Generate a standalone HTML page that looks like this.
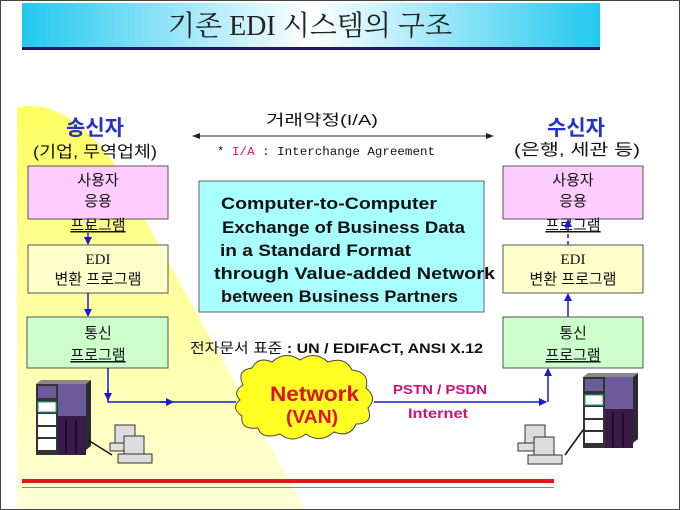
<!DOCTYPE html>
<html><head><meta charset="utf-8"><style>
html,body{margin:0;padding:0;background:#fff}
svg{display:block}
.k{font-family:"Liberation Sans","Noto Sans CJK KR",sans-serif}
.s{font-family:"Liberation Serif","Noto Serif CJK SC","Noto Sans CJK KR",serif}
.m{font-family:"Liberation Mono","Noto Sans CJK KR",monospace}
</style></head><body>
<svg width="680" height="510" viewBox="0 0 680 510" xmlns="http://www.w3.org/2000/svg">
<defs>
<linearGradient id="tg" x1="0" x2="1" y1="0" y2="0">
<stop offset="0" stop-color="#22c8f0"/><stop offset="0.5" stop-color="#ffffff"/><stop offset="1" stop-color="#22c8f0"/>
</linearGradient>
<linearGradient id="yg" x1="0" x2="0" y1="0" y2="1">
<stop offset="0" stop-color="#ffff60"/><stop offset="0.35" stop-color="#ffff90"/><stop offset="1" stop-color="#ffffd8"/>
</linearGradient>
<marker id="ar" markerWidth="8" markerHeight="8" refX="7" refY="4" orient="auto" markerUnits="userSpaceOnUse"><path d="M0,0 L8,4 L0,8 Z" fill="#1a1acc"/></marker>
<marker id="ak" markerWidth="8" markerHeight="8" refX="7" refY="4" orient="auto-start-reverse" markerUnits="userSpaceOnUse"><path d="M0,1 L8,4 L0,7 Z" fill="#222"/></marker>
</defs>
<rect x="0.5" y="0.5" width="679" height="509" fill="#fff" stroke="#444"/>
<path d="M17,108 Q60,95 112,160 L305,509 L17,509 Z" fill="url(#yg)"/>
<rect x="22" y="3" width="578" height="45" fill="url(#tg)"/>
<rect x="22" y="47" width="578" height="3" fill="#1a1a60"/>
<text x="310" y="35" text-anchor="middle" class="s" font-size="28" fill="#222">기존 EDI 시스템의 구조</text>

<text x="95" y="135" text-anchor="middle" class="k" font-size="21" font-weight="bold" fill="#2233cc">송신자</text>
<text x="33" y="157" class="k" font-size="16" fill="#111" textLength="124" lengthAdjust="spacingAndGlyphs">(기업, 무역업체)</text>
<text x="576" y="135" text-anchor="middle" class="k" font-size="21" font-weight="bold" fill="#2233cc">수신자</text>
<text x="514" y="155" class="k" font-size="16" fill="#111" textLength="126" lengthAdjust="spacingAndGlyphs">(은행, 세관 등)</text>

<text x="266" y="125" class="k" font-size="15" fill="#111" textLength="112" lengthAdjust="spacingAndGlyphs">거래약정(I/A)</text>
<line x1="193" y1="136" x2="493" y2="136" stroke="#222" stroke-width="1" marker-start="url(#ak)" marker-end="url(#ak)"/>
<text x="217" y="155" class="m" font-size="12" fill="#111" textLength="218" lengthAdjust="spacingAndGlyphs">* <tspan fill="#dd1177">I/A</tspan> : Interchange Agreement</text>

<!-- left boxes -->
<rect x="28" y="166" width="140" height="53" fill="#ffccff" stroke="#555"/>
<text x="98" y="185" text-anchor="middle" class="k" font-size="15" fill="#111">사용자</text>
<text x="98" y="206" text-anchor="middle" class="k" font-size="15" fill="#111">응용</text>
<text x="98" y="230" text-anchor="middle" class="k" font-size="15" fill="#111" text-decoration="underline">프로그램</text>
<line x1="88" y1="219" x2="88" y2="244" stroke="#1a1acc" stroke-width="1.5" stroke-dasharray="4,3" marker-end="url(#ar)"/>
<rect x="28" y="245" width="140" height="48" fill="#ffffcc" stroke="#555"/>
<text x="98" y="264" text-anchor="middle" class="s" font-size="15" fill="#111">EDI</text>
<text x="98" y="284" text-anchor="middle" class="k" font-size="15" fill="#111">변환 프로그램</text>
<line x1="88" y1="293" x2="88" y2="316" stroke="#1a1acc" stroke-width="1.5" marker-end="url(#ar)"/>
<rect x="27" y="317" width="141" height="51" fill="#ccffcc" stroke="#555"/>
<text x="98" y="338" text-anchor="middle" class="k" font-size="15" fill="#111">통신</text>
<text x="98" y="360" text-anchor="middle" class="k" font-size="15" fill="#111" text-decoration="underline">프로그램</text>

<!-- right boxes -->
<rect x="503" y="166" width="140" height="53" fill="#ffccff" stroke="#555"/>
<text x="573" y="185" text-anchor="middle" class="k" font-size="15" fill="#111">사용자</text>
<text x="573" y="206" text-anchor="middle" class="k" font-size="15" fill="#111">응용</text>
<text x="573" y="230" text-anchor="middle" class="k" font-size="15" fill="#111" text-decoration="underline">프로그램</text>
<line x1="568" y1="245" x2="568" y2="220" stroke="#1a1acc" stroke-width="1.5" stroke-dasharray="4,3" marker-end="url(#ar)"/>
<rect x="503" y="245" width="140" height="48" fill="#ffffcc" stroke="#555"/>
<text x="573" y="264" text-anchor="middle" class="s" font-size="15" fill="#111">EDI</text>
<text x="573" y="284" text-anchor="middle" class="k" font-size="15" fill="#111">변환 프로그램</text>
<line x1="568" y1="317" x2="568" y2="294" stroke="#1a1acc" stroke-width="1.5" marker-end="url(#ar)"/>
<rect x="503" y="317" width="140" height="51" fill="#ccffcc" stroke="#555"/>
<text x="573" y="338" text-anchor="middle" class="k" font-size="15" fill="#111">통신</text>
<text x="573" y="360" text-anchor="middle" class="k" font-size="15" fill="#111" text-decoration="underline">프로그램</text>

<!-- center box -->
<rect x="199" y="181" width="285" height="131" fill="#a8ffff" stroke="#666"/>
<g class="k" font-size="17" font-weight="bold" fill="#111" lengthAdjust="spacingAndGlyphs">
<text x="221" y="209" textLength="216" lengthAdjust="spacingAndGlyphs">Computer-to-Computer</text>
<text x="222" y="233" textLength="243" lengthAdjust="spacingAndGlyphs">Exchange of Business Data</text>
<text x="220" y="256" textLength="191" lengthAdjust="spacingAndGlyphs">in a Standard Format</text>
<text x="214" y="279" textLength="281" lengthAdjust="spacingAndGlyphs">through Value-added Network</text>
<text x="221" y="302" textLength="237" lengthAdjust="spacingAndGlyphs">between Business Partners</text>
</g>
<text x="190" y="353" class="k" font-size="14" fill="#111" textLength="293" lengthAdjust="spacingAndGlyphs">전자문서 표준 <tspan font-weight="bold">: UN / EDIFACT,  ANSI X.12</tspan></text>

<!-- connectors -->
<polyline points="108,368 108,402 236,402" fill="none" stroke="#1a1acc" stroke-width="1.5"/>
<line x1="108" y1="390" x2="108" y2="400" stroke="#1a1acc" stroke-width="1.5" marker-end="url(#ar)"/>
<line x1="160" y1="402" x2="173" y2="402" stroke="#1a1acc" stroke-width="1.5" marker-end="url(#ar)"/>
<polyline points="374,402 546,402" fill="none" stroke="#1a1acc" stroke-width="1.5" marker-end="url(#ar)"/>
<line x1="548" y1="402" x2="548" y2="369" stroke="#1a1acc" stroke-width="1.5" marker-end="url(#ar)"/>

<!-- cloud -->
<path d="M243,385 Q236,370 252,368 Q258,356 272,362 Q285,350 300,360 Q315,350 328,362 Q345,356 352,370 Q370,372 366,388 Q378,398 368,408 Q374,424 356,424 Q350,438 334,432 Q320,444 306,434 Q292,444 280,434 Q262,440 258,428 Q240,430 242,416 Q230,408 240,400 Q232,392 243,385 Z" fill="#ffff22" stroke="#444" stroke-width="1"/>
<text x="270" y="401" class="k" font-size="21" font-weight="bold" fill="#e0102a" textLength="89" lengthAdjust="spacingAndGlyphs">Network</text>
<text x="286" y="423" class="k" font-size="18" font-weight="bold" fill="#e0102a" textLength="52" lengthAdjust="spacingAndGlyphs">(VAN)</text>
<text x="393" y="394" class="k" font-size="13" font-weight="bold" fill="#cc1177" textLength="94" lengthAdjust="spacingAndGlyphs">PSTN / PSDN</text>
<text x="408" y="418" class="k" font-size="14" font-weight="bold" fill="#cc1177" textLength="60" lengthAdjust="spacingAndGlyphs">Internet</text>

<!-- left server -->
<g transform="translate(36,380)">
<polygon points="0,4 5,0 55,0 50,4" fill="#888"/>
<polygon points="50,4 55,0 55,66 50,70" fill="#2a2a30"/>
<rect x="0" y="4" width="22" height="71" fill="#333"/>
<rect x="2" y="6" width="18" height="12" fill="#6b5b9b"/>
<rect x="2" y="22" width="18" height="10" fill="#fff" stroke="#2a7"/>
<rect x="2" y="34" width="18" height="11" fill="#fff"/>
<rect x="2" y="47" width="18" height="10" fill="#fff"/>
<rect x="2" y="59" width="18" height="11" fill="#fff"/>
<rect x="22" y="4" width="28" height="32" fill="#6b5b9b"/>
<rect x="22" y="36" width="28" height="39" fill="#3a1a48"/>
<line x1="30" y1="40" x2="30" y2="74" stroke="#000"/><line x1="40" y1="40" x2="40" y2="74" stroke="#000"/>
</g>
<line x1="88" y1="440" x2="112" y2="455" stroke="#111" stroke-width="1.5"/>
<g fill="#ddd" stroke="#333" stroke-width="1">
<rect x="115" y="425" width="20" height="18"/><rect x="110" y="443" width="30" height="8"/>
<rect x="124" y="436" width="20" height="18"/><rect x="118" y="454" width="34" height="9"/>
</g>

<!-- right server -->
<g transform="translate(583,373)">
<polygon points="0,4 5,0 55,0 50,4" fill="#888"/>
<polygon points="50,4 55,0 55,66 50,70" fill="#2a2a30"/>
<rect x="0" y="4" width="22" height="71" fill="#333"/>
<rect x="2" y="6" width="18" height="12" fill="#6b5b9b"/>
<rect x="2" y="22" width="18" height="10" fill="#fff" stroke="#2a7"/>
<rect x="2" y="34" width="18" height="11" fill="#fff"/>
<rect x="2" y="47" width="18" height="10" fill="#fff"/>
<rect x="2" y="59" width="18" height="11" fill="#fff"/>
<rect x="22" y="4" width="28" height="32" fill="#6b5b9b"/>
<rect x="22" y="36" width="28" height="39" fill="#3a1a48"/>
<line x1="30" y1="40" x2="30" y2="74" stroke="#000"/><line x1="40" y1="40" x2="40" y2="74" stroke="#000"/>
</g>
<line x1="583" y1="430" x2="565" y2="455" stroke="#111" stroke-width="1.5"/>
<g fill="#ddd" stroke="#333" stroke-width="1">
<rect x="525" y="425" width="20" height="18"/><rect x="518" y="443" width="30" height="8"/>
<rect x="534" y="437" width="20" height="18"/><rect x="528" y="455" width="34" height="9"/>
</g>

<rect x="22" y="479" width="532" height="4" fill="#e01818"/>
<rect x="22" y="487" width="532" height="1" fill="#e06060"/>
</svg>
</body></html>
